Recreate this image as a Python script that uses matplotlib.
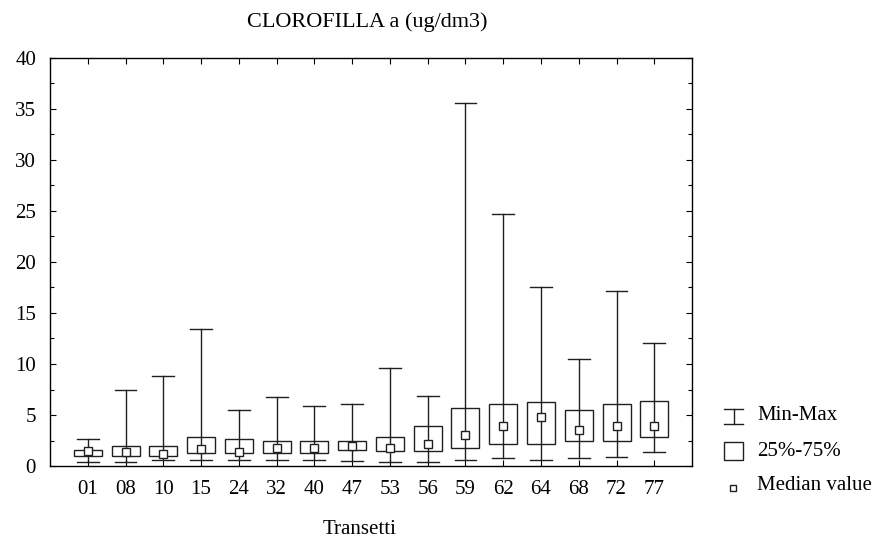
import numpy as np
import matplotlib
matplotlib.use("Agg")
import matplotlib.pyplot as plt
from matplotlib.patches import Rectangle
from matplotlib.lines import Line2D

plt.rcParams["font.family"] = ["Liberation Serif", "DejaVu Serif"]

transetti = ["01", "08", "10", "15", "24", "32", "40", "47", "53", "56", "59", "62", "64", "68", "72", "77"]
v_min = [0.36, 0.36, 0.55, 0.55, 0.55, 0.55, 0.62, 0.46, 0.39, 0.36, 0.59, 0.75, 0.59, 0.82, 0.88, 1.34]
v_q25 = [1.0, 1.0, 0.98, 1.24, 1.24, 1.24, 1.24, 1.53, 1.44, 1.44, 1.73, 2.13, 2.13, 2.48, 2.48, 2.84]
v_med = [1.44, 1.4, 1.2, 1.63, 1.4, 1.8, 1.8, 1.96, 1.8, 2.16, 3.0, 3.92, 4.8, 3.56, 3.92, 3.92]
v_q75 = [1.57, 1.96, 1.96, 2.8, 2.6, 2.48, 2.48, 2.48, 2.8, 3.89, 5.65, 6.05, 6.24, 5.49, 6.05, 6.37]
v_max = [2.6, 7.45, 8.85, 13.4, 5.46, 6.8, 5.85, 6.1, 9.6, 6.83, 35.6, 24.7, 17.5, 10.45, 17.15, 12.1]

fig = plt.figure(figsize=(8.93, 5.43), dpi=100)
ax = fig.add_axes([0.056, 0.1418, 0.719, 0.7514])

x = np.arange(1, len(transetti) + 1)
bw, cw = 0.37, 0.29
lc = "#202020"
for xi, lo, q1, md, q3, hi in zip(x, v_min, v_q25, v_med, v_q75, v_max):
    ax.plot([xi, xi], [lo, hi], color=lc, lw=1.0, zorder=1)
    ax.plot([xi - cw, xi + cw], [hi, hi], color=lc, lw=1.0)
    ax.plot([xi - cw, xi + cw], [lo, lo], color=lc, lw=1.0)
    ax.add_patch(Rectangle((xi - bw, q1), 2 * bw, q3 - q1, facecolor="none",
                           edgecolor=lc, lw=1.0, zorder=2))
ax.plot(x, v_med, ls="none", marker="s", ms=6, mfc="white", mec=lc, mew=1.0, zorder=3)

ax.set_xlim(0, len(transetti) + 1)
ax.set_ylim(0, 40)
ax.set_xticks(x)
ax.set_xticklabels(transetti)
ax.set_yticks(np.arange(0, 41, 5))
ax.set_yticks(np.arange(0, 40, 2.5), minor=True)
ax.tick_params(direction="in", top=True, right=True, labelsize=15, length=4, width=0.8)
ax.tick_params(axis="x", pad=10)
ax.tick_params(axis="y", pad=10)
ax.tick_params(which="minor", direction="in", right=True, length=3, width=0.8)
for s in ax.spines.values():
    s.set_linewidth(1.0)


def fx(px): return px / 893
def fy(py): return 1 - py / 543


fig.text(fx(367), fy(22), "CLOROFILLA a (ug/dm3)", ha="center", va="center", fontsize=16)
fig.text(fx(360), fy(530), "Transetti", ha="center", va="center", fontsize=15)

# legend drawn by hand at right
fig.add_artist(Line2D([fx(734), fx(734)], [fy(409), fy(424)], color=lc, lw=1.0))
fig.add_artist(Line2D([fx(724), fx(743)], [fy(409), fy(409)], color=lc, lw=1.0))
fig.add_artist(Line2D([fx(724), fx(743)], [fy(424), fy(424)], color=lc, lw=1.0))
fig.text(fx(757), fy(416), "Min-Max", va="center", fontsize=15)
fig.add_artist(Rectangle((fx(724), fy(460)), fx(19), 18 / 543, facecolor="none",
                         edgecolor=lc, lw=1.0, transform=fig.transFigure))
fig.text(fx(757), fy(451), "25%-75%", va="center", fontsize=15)
fig.add_artist(Line2D([fx(733)], [fy(488)], marker="s", ms=4.5, mfc="white", mec=lc, mew=1.0,
                      transform=fig.transFigure))
fig.text(fx(757), fy(486), "Median value", va="center", fontsize=15)

fig.savefig("out.png", dpi=100)
